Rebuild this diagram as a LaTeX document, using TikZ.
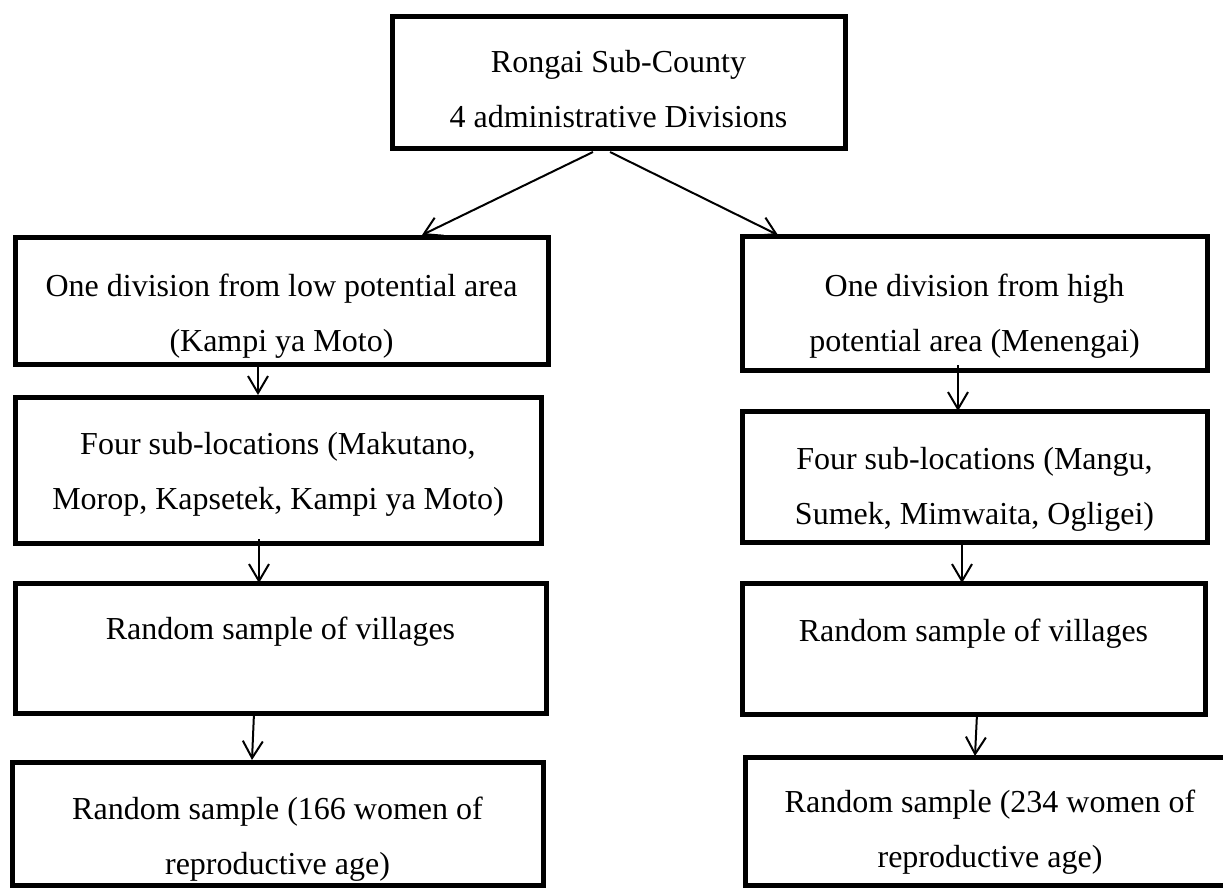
\documentclass[tikz,border=0pt]{standalone}
\usepackage{fontspec}
\setmainfont{Liberation Serif}
\usetikzlibrary{arrows.meta}

\begin{document}
\begin{tikzpicture}[x=0.5pt,y=-0.5pt]
  %%Create the styles for the boxes and the arrows
  \tikzset{stage box/.style={draw,rectangle,line width=2.5pt,inner sep=0pt,outer sep=0pt,align=center,font=\fontsize{16}{27.5}\selectfont}}
  \tikzset{down arrow/.style={draw,-{Straight Barb[length=8.5pt,width=10pt]},line width=1pt}}
  %%Page frame
  \clip (0,0) rectangle (1223,889);
  \fill[white] (0,0) rectangle (1223,889);
  %%Create the coordinates of the box centres
  \path (618.5,82) coordinate (c0);
  \path (281.5,300.5) coordinate (l1) (278,470) coordinate (l2) (280.5,648) coordinate (l3) (277.5,823.5) coordinate (l4);
  \path (974.5,303) coordinate (r1) (974.5,476.5) coordinate (r2) (973.5,648.5) coordinate (r3) (990,821) coordinate (r4);
  %%Place the boxes
  \node[stage box,minimum width=226.5pt,minimum height=66pt,text height=45pt,text depth=0pt] (county) at (c0) {Rongai Sub-County\\4 administrative Divisions};
  \node[stage box,minimum width=266.5pt,minimum height=63.5pt,text height=50.5pt,text depth=0pt] (low) at (l1) {One division from low potential area\\(Kampi ya Moto)};
  \node[stage box,minimum width=263pt,minimum height=73pt,text height=39pt,text depth=0pt] (lowsub) at (l2) {Four sub-locations (Makutano,\\Morop, Kapsetek, Kampi ya Moto)};
  \node[stage box,minimum width=265.5pt,minimum height=65pt,text height=0pt,text depth=9pt] (lowvil) at (l3) {Random sample of villages};
  \node[stage box,minimum width=265.5pt,minimum height=61.5pt,text height=50.5pt,text depth=0pt] (lowwom) at (l4) {Random sample (166 women of\\reproductive age)};
  \node[stage box,minimum width=232.5pt,minimum height=67pt,text height=48pt,text depth=0pt] (high) at (r1) {One division from high\\potential area (Menengai)};
  \node[stage box,minimum width=232.5pt,minimum height=65.5pt,text height=47.5pt,text depth=0pt] (highsub) at (r2) {Four sub-locations (Mangu,\\Sumek, Mimwaita, Ogligei)};
  \node[stage box,minimum width=231.5pt,minimum height=65.5pt,text height=0pt,text depth=7.5pt] (highvil) at (r3) {Random sample of villages};
  \node[stage box,minimum width=245pt,minimum height=64pt,text height=46pt,text depth=0pt] (highwom) at (r4) {Random sample (234 women of\\reproductive age)};
  %%Drawing the arrows
  \path[down arrow] ([xshift=-12.75pt,yshift=-2pt]county.south) -- ([xshift=70.25pt,yshift=1pt]low.north);
  \path[down arrow] ([xshift=-4.25pt,yshift=-2pt]county.south) -- ([xshift=-98.25pt,yshift=0.5pt]high.north);
  \path[down arrow] ([xshift=-11.75pt]low.south) -- ([xshift=-10pt,yshift=1pt]lowsub.north);
  \path[down arrow] ([xshift=-9.5pt,yshift=2pt]lowsub.south) -- ([xshift=-10.75pt]lowvil.north);
  \path[down arrow] ([xshift=-13.25pt]lowvil.south) -- ([xshift=-12.75pt,yshift=1pt]lowwom.north);
  \path[down arrow] ([xshift=-8.25pt,yshift=2.5pt]high.south) -- ([xshift=-8.25pt]highsub.north);
  \path[down arrow] ([xshift=-6.25pt]highsub.south) -- ([xshift=-5.75pt]highvil.north);
  \path[down arrow] ([xshift=1.75pt]highvil.south) -- ([xshift=-7.5pt,yshift=0.5pt]highwom.north);
\end{tikzpicture}
\end{document}
